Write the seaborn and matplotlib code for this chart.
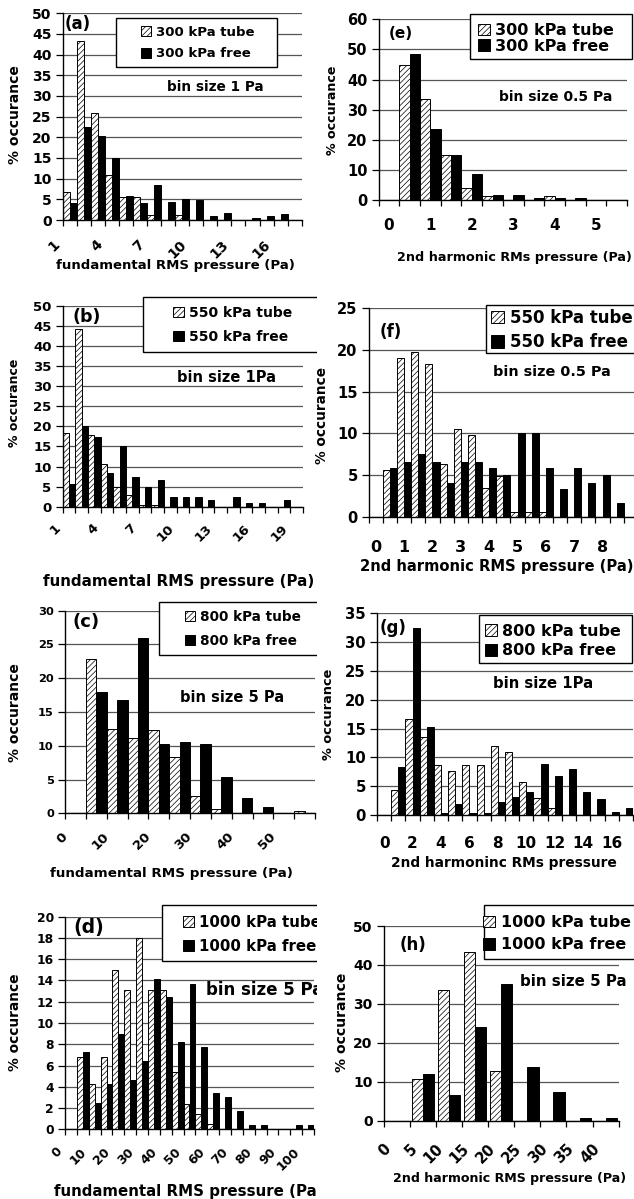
import numpy as np
import pandas as pd
import matplotlib
matplotlib.use("Agg")
import matplotlib.pyplot as plt
import seaborn as sns
from matplotlib.patches import Patch, Rectangle
from matplotlib.transforms import Bbox, TransformedBbox, ScaledTranslation

sns.set_theme(style="white")
plt.rcParams["font.family"] = ["DejaVu Sans"]
plt.rcParams["font.weight"] = "bold"
plt.rcParams["axes.labelweight"] = "bold"
plt.rcParams["hatch.linewidth"] = 0.5
plt.rcParams["hatch.color"] = "black"

W, H = 634, 1199
HATCH = "//////"

# ==========================================
# DATA (% occurance per bin)
# ==========================================
# (a) fundamental, 300 kPa, bin 1 Pa
a_bins = list(range(1, 18))
a_tube = [6.8, 43.3, 25.8, 10.8, 5.5, 5.6, 1.3, 0, 1.3, 0, 0, 0, 0, 0, 0, 0, 0]
a_free = [4.2, 22.4, 20.3, 15.0, 5.7, 4.0, 8.5, 4.3, 5.2, 4.8, 1.0, 1.8, 0, 0.6, 1.0, 1.5, 0]
a_ticks = ["1", "4", "7", "10", "13", "16"]
a_names = ["300 kPa tube", "300 kPa free"]

# (e) 2nd harmonic, 300 kPa, bin 0.5 Pa
e_bins = [0, 0.5, 1, 1.5, 2, 2.5, 3, 3.5, 4, 4.5, 5, 5.5]
e_tube = [0, 44.7, 33.7, 15.0, 4.0, 1.2, 0, 0, 1.2, 0, 0, 0]
e_free = [0, 48.5, 23.5, 15.0, 8.5, 1.8, 1.5, 0.6, 0.6, 0.6, 0, 0]
e_ticks = ["0", "1", "2", "3", "4", "5"]
e_names = ["300 kPa tube", "300 kPa free"]

# (b) fundamental, 550 kPa, bin 1 Pa
b_bins = list(range(1, 20))
b_tube = [18.3, 44.3, 17.8, 10.6, 5.0, 2.8, 0.5, 0.5, 0, 0, 0, 0, 0, 0, 0, 0, 0, 0, 0]
b_free = [5.7, 20.0, 17.3, 8.4, 15.0, 7.5, 5.0, 6.7, 2.5, 2.5, 2.5, 1.7, 0, 2.5, 0.8, 0.8, 0, 1.7, 0]
b_ticks = ["1", "4", "7", "10", "13", "16", "19"]
b_names = ["550 kPa tube", "550 kPa free"]

# (f) 2nd harmonic, 550 kPa, bin 0.5 Pa
f_bins = [0, 0.5, 1, 1.5, 2, 2.5, 3, 3.5, 4, 4.5, 5, 5.5, 6, 6.5, 7, 7.5, 8, 8.5]
f_tube = [0, 5.6, 19.0, 19.8, 18.3, 6.3, 10.5, 9.8, 3.5, 4.9, 0.6, 0.6, 0.6, 0, 0, 0, 0, 0]
f_free = [0, 5.8, 6.6, 7.5, 6.6, 4.1, 6.6, 6.6, 5.8, 5.0, 10.0, 10.0, 5.8, 3.3, 5.8, 4.1, 5.0, 1.6]
f_ticks = ["0", "1", "2", "3", "4", "5", "6", "7", "8"]
f_names = ["550 kPa tube", "550 kPa free"]

# (c) fundamental, 800 kPa, bin 5 Pa
c_bins = [0, 5, 10, 15, 20, 25, 30, 35, 40, 45, 50, 55]
c_tube = [0, 22.9, 12.5, 11.1, 12.3, 8.4, 2.5, 0.6, 0, 0, 0, 0.4]
c_free = [0, 18.0, 16.8, 26.0, 10.2, 10.6, 10.2, 5.4, 2.3, 0.9, 0, 0]
c_ticks = ["0", "10", "20", "30", "40", "50"]
c_names = ["800 kPa tube", "800 kPa free"]

# (g) 2nd harmonic, 800 kPa, bin 1 Pa
g_bins = list(range(0, 18))
g_tube = [0, 4.3, 16.6, 13.6, 8.6, 7.6, 8.6, 8.6, 11.9, 11.0, 5.7, 3.0, 1.3, 0, 0, 0, 0, 0]
g_free = [0, 8.4, 32.4, 15.2, 0.4, 1.9, 0.4, 0.4, 2.2, 3.2, 4.0, 8.9, 6.7, 7.9, 4.0, 2.7, 0.6, 1.3]
g_ticks = ["0", "2", "4", "6", "8", "10", "12", "14", "16"]
g_names = ["800 kPa tube", "800 kPa free"]

# (d) fundamental, 1000 kPa, bin 5 Pa
d_bins = list(range(0, 105, 5))
d_tube = [0, 6.8, 4.3, 6.8, 15.0, 13.1, 18.0, 13.1, 13.1, 5.4, 2.4, 1.4, 0.5, 0, 0, 0, 0, 0, 0, 0, 0]
d_free = [0, 7.3, 2.5, 4.3, 9.0, 4.6, 6.4, 14.1, 12.4, 8.2, 13.7, 7.7, 3.4, 3.0, 1.7, 0.4, 0.4, 0, 0, 0.4, 0.4]
d_ticks = ["0", "10", "20", "30", "40", "50", "60", "70", "80", "90", "100"]
d_names = ["1000 kPa tube", "1000 kPa free"]

# (h) 2nd harmonic, 1000 kPa, bin 5 Pa
h_bins = [0, 5, 10, 15, 20, 25, 30, 35, 40]
h_tube = [0, 10.8, 33.6, 43.2, 12.8, 0, 0, 0, 0]
h_free = [0, 12.0, 6.6, 24.0, 35.0, 13.8, 7.4, 0.8, 0.8]
h_ticks = ["0", "5", "10", "15", "20", "25", "30", "35", "40"]
h_names = ["1000 kPa tube", "1000 kPa free"]

FUND = "fundamental RMS pressure (Pa)"

# ==========================================
# LAYOUT (pixel positions in the 634x1199 image)
# ==========================================
panels = [
    dict(tag="(a)", bins=a_bins, tube=a_tube, free=a_free, ticks=a_ticks, names=a_names,
         ymax=50, ystep=5, box=(62.7, 13.3, 301.7, 220), width=1.0, yfs=10,
         rot=True, xfs=10, xgap=25, dx=-9, xlabel=FUND, xl=(175, 265, 9.5),
         yl=(15, 115, 10), tagpos=(65, 24, 12), note="bin size 1 Pa", notepos=(167, 87, 9.8),
         legbox=(116, 18, 277, 67), leg=(198, 43, 9.5, 0.65), clip=True),
    dict(tag="(e)", bins=e_bins, tube=e_tube, free=e_free, ticks=e_ticks, names=e_names,
         ymax=60, ystep=10, box=(378.7, 19.3, 627, 200), width=1.0, yfs=10.5,
         rot=False, xfs=11, xgap=18, xlabel="2nd harmonic RMs pressure (Pa)", xl=(514.5, 257, 9.2),
         yl=(332, 110, 9.1), tagpos=(389, 33, 11), note="bin size 0.5 Pa", notepos=(499, 97, 10),
         legbox=(470, 14, 632, 59), leg=(546, 38.5, 11.5, 0.05), clip=False),
    dict(tag="(b)", bins=b_bins, tube=b_tube, free=b_free, ticks=b_ticks, names=b_names,
         ymax=50, ystep=5, box=(62.7, 306, 303, 506.7), width=1.0, yfs=9.5,
         rot=True, xfs=9.5, xgap=22, dx=-8, xlabel=FUND, xl=(179, 581.7, 10.9),
         yl=(15, 403, 9), tagpos=(72, 317, 12.5), note="bin size 1Pa", notepos=(177, 378, 10.5),
         legbox=(143, 297, 330, 352), leg=(232.5, 325, 10, 0.75), clip=True),
    dict(tag="(f)", bins=f_bins, tube=f_tube, free=f_free, ticks=f_ticks, names=f_names,
         ymax=25, ystep=5, box=(368.7, 308.3, 634, 516.7), width=1.0, yfs=10.5, xmax=18.22,
         rot=False, xfs=11.5, xgap=23, xlabel="2nd harmonic RMS pressure (Pa)", xl=(497, 566.7, 10.6),
         yl=(322, 415, 9.8), tagpos=(380, 332, 12), note="bin size 0.5 Pa", notepos=(493, 372, 10.4),
         legbox=(486, 305, 640, 353), leg=(562, 330, 12, 0.4), clip=False),
    dict(tag="(c)", bins=c_bins, tube=c_tube, free=c_free, ticks=c_ticks, names=c_names,
         ymax=30, ystep=5, box=(65, 610.7, 315, 813.3), width=1.0, yfs=8.2,
         rot=True, xfs=9.5, xgap=24, dx=-8, xlabel=FUND, xl=(171.7, 873.3, 9.7),
         yl=(15, 713, 10), tagpos=(73, 622, 13), note="bin size 5 Pa", notepos=(180, 697, 10.5),
         legbox=(159, 602, 330, 655), leg=(242.5, 629, 9.8, 0.73), clip=True),
    dict(tag="(g)", bins=g_bins, tube=g_tube, free=g_free, ticks=g_ticks, names=g_names,
         ymax=35, ystep=5, box=(377, 613.3, 633, 815), width=1.0, yfs=10.7,
         rot=False, xfs=11, xgap=21, xlabel="2nd harmoninc RMs pressure", xl=(504, 863.3, 9.9),
         yl=(329, 714, 9.3), tagpos=(380, 628, 12), note="bin size 1Pa", notepos=(493, 683, 10.7),
         legbox=(479, 615, 632, 663), leg=(553, 641, 11.5, 0.3), clip=False),
    dict(tag="(d)", bins=d_bins, tube=d_tube, free=d_free, ticks=d_ticks, names=d_names,
         ymax=20, ystep=2, box=(65, 916.7, 314, 1129.3), width=1.0, yfs=8.8,
         rot=True, xfs=9, xgap=23, dx=-8, xlabel=FUND, xl=(189, 1191.5, 10.8),
         yl=(15, 1022, 9.9), tagpos=(73, 928, 13.5), note="bin size 5 Pa", notepos=(206, 990, 12),
         legbox=(162, 905, 330, 961), leg=(252, 934.5, 10.8, 0.6), clip=True),
    dict(tag="(h)", bins=h_bins, tube=h_tube, free=h_free, ticks=h_ticks, names=h_names,
         ymax=50, ystep=10, box=(383.7, 926, 618.7, 1120.7), width=0.86, yfs=10,
         rot=True, xfs=10.5, xgap=29, dx=-5, xlabel="2nd harmonic RMS pressure (Pa)", xl=(509.5, 1178.3, 9.1),
         yl=(342, 1022, 10.1), tagpos=(400, 945, 12), note="bin size 5 Pa", notepos=(520, 982, 10.8),
         legbox=(484, 905, 640, 959), leg=(557, 933.7, 11.5, 0.45), clip=False),
]

fig = plt.figure(figsize=(W / 100, H / 100), dpi=100)
left_clip = TransformedBbox(Bbox.from_extents(0, 0, 317 / W, 1), fig.transFigure)


def fx(x):
    return x / W


def fy(y):
    return 1 - y / H


def clip(artist, on):
    if on:
        artist.set_clip_box(left_clip)
        artist.set_clip_on(True)


def draw_panel(p):
    x0, y0, x1, y1 = p["box"]
    ax = fig.add_axes([fx(x0), fy(y1), (x1 - x0) / W, (y1 - y0) / H])
    n = len(p["bins"])
    cats = [f"{b:g}" for b in p["bins"]]
    df = pd.DataFrame({
        "bin": cats * 2,
        "pct": p["tube"] + p["free"],
        "series": [p["names"][0]] * n + [p["names"][1]] * n,
    })
    sns.barplot(data=df, x="bin", y="pct", hue="series", order=cats, hue_order=p["names"],
                palette=["white", "black"], saturation=1, width=p["width"], gap=0,
                errorbar=None, edgecolor="black", linewidth=0.7, legend=False, ax=ax)
    for bar in ax.containers[0]:
        bar.set_hatch(HATCH)

    # y axis
    ax.set_ylim(0, p["ymax"])
    ax.set_yticks(np.arange(0, p["ymax"] + 1e-9, p["ystep"]))
    ax.yaxis.grid(True, color="#555555", linewidth=0.9)
    ax.xaxis.grid(False)
    ax.set_axisbelow(True)
    ax.tick_params(axis="y", left=True, length=5, width=0.9, pad=3, color="black",
                   labelsize=p["yfs"], labelcolor="black")

    # x axis: labels at bin centres, tick marks at bin edges
    ax.set_xlim(-0.5, p.get("xmax", n - 0.5))
    ax.set_xticks([cats.index(t) for t in p["ticks"]])
    ax.set_xticklabels(p["ticks"])
    ax.set_xticks(np.arange(-0.5, n), minor=True)
    ax.tick_params(axis="x", which="minor", bottom=True, length=4, width=0.9, color="black")
    ax.tick_params(axis="x", which="major", bottom=True, length=0, labelsize=p["xfs"],
                   labelcolor="black", pad=p["xgap"] * 0.72)
    if p["rot"]:
        shift = ScaledTranslation(p["dx"] / 100, 0, fig.dpi_scale_trans)
        for lab in ax.get_xticklabels():
            lab.set_rotation(45)
            lab.set_ha("right")
            lab.set_va("baseline")
            lab.set_rotation_mode("anchor")
            lab.set_transform(lab.get_transform() + shift)

    for side in ["top", "right"]:
        ax.spines[side].set_visible(False)
    for side in ["left", "bottom"]:
        ax.spines[side].set_color("black")
        ax.spines[side].set_linewidth(1.0)

    # axis titles
    cx, cy, fs = p["xl"]
    ax.set_xlabel(p["xlabel"], fontsize=fs, color="black")
    ax.xaxis.set_label_coords(fx(cx), fy(cy), transform=fig.transFigure)
    ax.xaxis.label.set_va("center")
    clip(ax.xaxis.label, p["clip"])
    cx, cy, fs = p["yl"]
    ax.set_ylabel("% occurance", fontsize=fs, color="black")
    ax.yaxis.set_label_coords(fx(cx), fy(cy), transform=fig.transFigure)
    ax.yaxis.label.set_va("center")
    ax.yaxis.label.set_ha("center")

    # panel tag and bin-size note
    tx, ty, fs = p["tagpos"]
    fig.text(fx(tx), fy(ty), p["tag"], fontsize=fs, ha="left", va="center", color="black")
    nx, ny, fs = p["notepos"]
    t = fig.text(fx(nx), fy(ny), p["note"], fontsize=fs, ha="left", va="center", color="black")
    clip(t, p["clip"])

    # legend: white box + frameless legend centred in it
    bx0, by0, bx1, by1 = p["legbox"]
    rect = Rectangle((fx(bx0), fy(by1)), (bx1 - bx0) / W, (by1 - by0) / H,
                     transform=fig.transFigure, facecolor="white", edgecolor="black",
                     linewidth=1.0, zorder=3)
    fig.add_artist(rect)
    clip(rect, p["clip"])
    handles = [Patch(facecolor="white", edgecolor="black", hatch=HATCH, linewidth=0.7),
               Patch(facecolor="black", edgecolor="black", linewidth=0.7)]
    lx, ly, lfs, lsp = p["leg"]
    leg = fig.legend(handles, p["names"], loc="center", bbox_to_anchor=(fx(lx), fy(ly)),
                     frameon=False, fontsize=lfs, handlelength=0.75, handleheight=0.75,
                     handletextpad=0.35, labelspacing=lsp, borderpad=0, borderaxespad=0)
    for txt in leg.get_texts():
        txt.set_color("black")
        clip(txt, p["clip"])
    for hnd in leg.legend_handles:
        clip(hnd, p["clip"])
    return ax


for p in panels:
    draw_panel(p)

fig.savefig("out.png", dpi=100)
